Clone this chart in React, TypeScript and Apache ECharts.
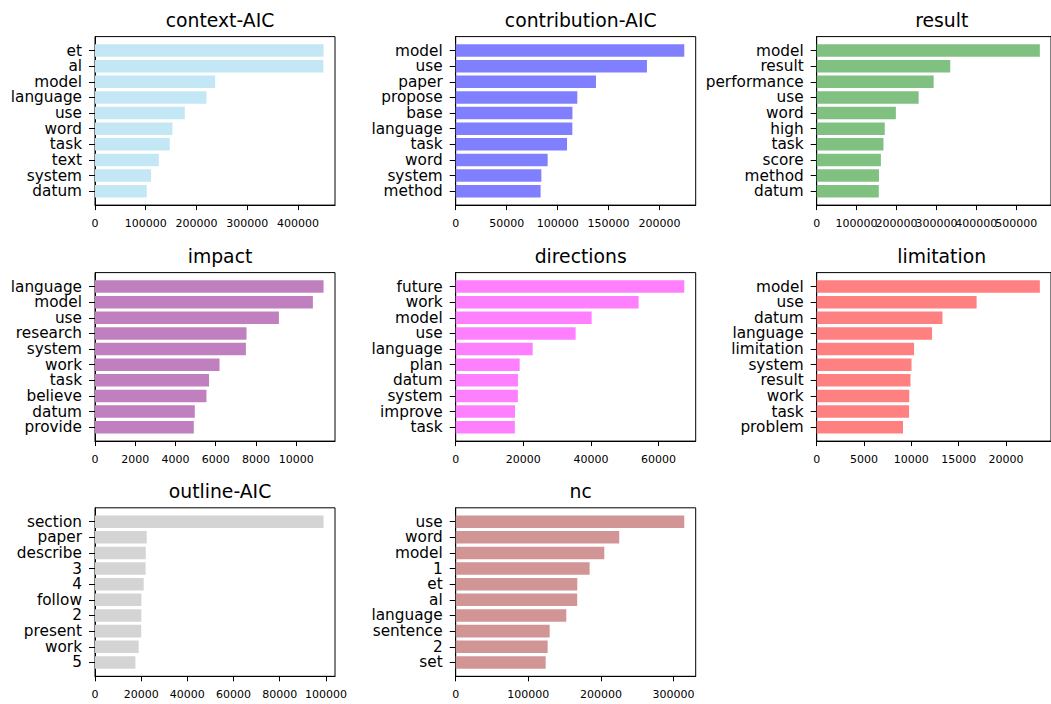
import React, { useEffect, useRef } from "react";
import * as echarts from "echarts";

// ---- data ----
const contextCats = ["et", "al", "model", "language", "use", "word", "task", "text", "system", "datum"];
const contextVals = [450500, 450000, 236800, 219700, 177000, 152600, 147400, 125700, 110500, 102000];
const contextTicks = [0, 100000, 200000, 300000, 400000];

const contribCats = ["model", "use", "paper", "propose", "base", "language", "task", "word", "system", "method"];
const contribVals = [224200, 187600, 137600, 119300, 114500, 114400, 109200, 90200, 84000, 83300];
const contribTicks = [0, 50000, 100000, 150000, 200000];

const resultCats = ["model", "result", "performance", "use", "word", "high", "task", "score", "method", "datum"];
const resultVals = [559200, 334700, 293100, 255500, 198400, 170600, 167300, 160800, 156000, 155600];
const resultTicks = [0, 100000, 200000, 300000, 400000, 500000];

const impactCats = ["language", "model", "use", "research", "system", "work", "task", "believe", "datum", "provide"];
const impactVals = [11360, 10830, 9140, 7530, 7500, 6190, 5670, 5540, 4960, 4910];
const impactTicks = [0, 2000, 4000, 6000, 8000, 10000];

const directionsCats = ["future", "work", "model", "use", "language", "plan", "datum", "system", "improve", "task"];
const directionsVals = [67590, 54090, 40200, 35470, 22760, 18920, 18420, 18380, 17540, 17500];
const directionsTicks = [0, 20000, 40000, 60000];

const limitationCats = ["model", "use", "datum", "language", "limitation", "system", "result", "work", "task", "problem"];
const limitationVals = [23580, 16900, 13290, 12190, 10290, 10020, 9910, 9780, 9760, 9120];
const limitationTicks = [0, 5000, 10000, 15000, 20000];

const outlineCats = ["section", "paper", "describe", "3", "4", "follow", "2", "present", "work", "5"];
const outlineVals = [98990, 22400, 21970, 21900, 21100, 20090, 20050, 20000, 18930, 17490];
const outlineTicks = [0, 20000, 40000, 60000, 80000, 100000];

const ncCats = ["use", "word", "model", "1", "et", "al", "language", "sentence", "2", "set"];
const ncVals = [314700, 225200, 204600, 184400, 167400, 167300, 152300, 129400, 126600, 123900];
const ncTicks = [0, 100000, 200000, 300000];

const panels = [
  { title: "context-AIC", cats: contextCats, vals: contextVals, ticks: contextTicks, color: "#c3e7f5" },
  { title: "contribution-AIC", cats: contribCats, vals: contribVals, ticks: contribTicks, color: "#8080ff" },
  { title: "result", cats: resultCats, vals: resultVals, ticks: resultTicks, color: "#80c080" },
  { title: "impact", cats: impactCats, vals: impactVals, ticks: impactTicks, color: "#c080c0" },
  { title: "directions", cats: directionsCats, vals: directionsVals, ticks: directionsTicks, color: "#ff80ff" },
  { title: "limitation", cats: limitationCats, vals: limitationVals, ticks: limitationTicks, color: "#ff8080" },
  { title: "outline-AIC", cats: outlineCats, vals: outlineVals, ticks: outlineTicks, color: "#d4d4d4" },
  { title: "nc", cats: ncCats, vals: ncVals, ticks: ncTicks, color: "#d29595" },
];

// ---- layout ----
const COL_LEFT = [95, 455.7, 816.7];
const ROW_TOP = [36.6, 272.6, 507.8];
const GRID_W = 240;
const GRID_H = 168.5;
const FONT = "DejaVu Sans";

function xAxisFor(k: number, maxV: number, ticks: number[], showLine: boolean) {
  return {
    gridIndex: k,
    type: "value",
    position: "bottom",
    min: 0,
    max: maxV,
    splitLine: { show: false },
    axisLine: { show: showLine, onZero: false, lineStyle: { color: "#000", width: 1 } },
    axisTick: { show: true, length: 5, customValues: ticks, lineStyle: { color: "#000" } },
    axisLabel: {
      customValues: ticks,
      fontFamily: FONT,
      fontSize: 11,
      color: "#000",
      margin: 13,
      hideOverlap: false,
      showMinLabel: true,
      showMaxLabel: true,
      formatter: (v: number) => String(v),
    },
  };
}

function buildOption() {
  const grids: any[] = [];
  const xAxes: any[] = [];
  const yAxes: any[] = [];
  const series: any[] = [];
  const titles: any[] = [];
  const n = 10;
  const pad = 0.05 * (n - 1 + 0.8);
  panels.forEach((p, k) => {
    const r = Math.floor(k / 3);
    const c = k % 3;
    const left = COL_LEFT[c];
    const top = ROW_TOP[r];
    grids.push({
      left,
      top,
      width: GRID_W,
      height: GRID_H,
      show: true,
      borderColor: "#000",
      borderWidth: 1,
      backgroundColor: "transparent",
      containLabel: false,
    });
    titles.push({
      text: p.title,
      left: left + GRID_W / 2,
      top: top - 30.5,
      textAlign: "center",
      textStyle: { fontFamily: FONT, fontSize: 18.8, fontWeight: "normal", color: "#000" },
    });
    const maxV = Math.max(...p.vals) * 1.05;
    // ticks split across two overlaid axes so that touching labels are all kept (as in the reference)
    const evenTicks = p.ticks.filter((_, i) => i % 2 === 0);
    const oddTicks = p.ticks.filter((_, i) => i % 2 === 1);
    xAxes.push(xAxisFor(k, maxV, evenTicks, true));
    xAxes.push(xAxisFor(k, maxV, oddTicks, false));
    const idx = p.cats.map((_, i) => i);
    yAxes.push({
      gridIndex: k,
      type: "value",
      inverse: true,
      min: -0.4 - pad,
      max: n - 1 + 0.4 + pad,
      splitLine: { show: false },
      axisLine: { show: true, onZero: false, lineStyle: { color: "#000", width: 1 } },
      axisTick: { show: true, length: 6, customValues: idx, lineStyle: { color: "#000" } },
      axisLabel: {
        customValues: idx,
        fontFamily: FONT,
        fontSize: 15.3,
        lineHeight: 15,
        color: "#000",
        margin: 13,
        showMinLabel: true,
        showMaxLabel: true,
        formatter: (v: number) => p.cats[Math.round(v)] ?? "",
      },
    });
    const color = p.color;
    series.push({
      type: "custom",
      xAxisIndex: 2 * k,
      yAxisIndex: k,
      encode: { x: 0, y: 1 },
      data: p.vals.map((v, i) => [v, i]),
      renderItem: (params: any, api: any) => {
        const v = api.value(0);
        const i = api.value(1);
        const a = api.coord([0, i - 0.4]);
        const b = api.coord([v, i + 0.4]);
        return {
          type: "rect",
          shape: {
            x: Math.min(a[0], b[0]),
            y: Math.min(a[1], b[1]),
            width: Math.abs(b[0] - a[0]),
            height: Math.abs(b[1] - a[1]),
          },
          style: { fill: color },
        };
      },
    });
  });
  return {
    animation: false,
    backgroundColor: "#fff",
    title: titles,
    grid: grids,
    xAxis: xAxes,
    yAxis: yAxes,
    series,
  };
}

export default function App() {
  const ref = useRef<HTMLDivElement>(null);
  useEffect(() => {
    if (!ref.current) return;
    const chart = echarts.init(ref.current, undefined, { renderer: "svg" });
    chart.setOption(buildOption() as any);
    return () => chart.dispose();
  }, []);
  return (
    <div
      ref={ref}
      style={{ position: "absolute", left: 0, top: 0, width: 1051, height: 704, background: "#fff" }}
    />
  );
}
